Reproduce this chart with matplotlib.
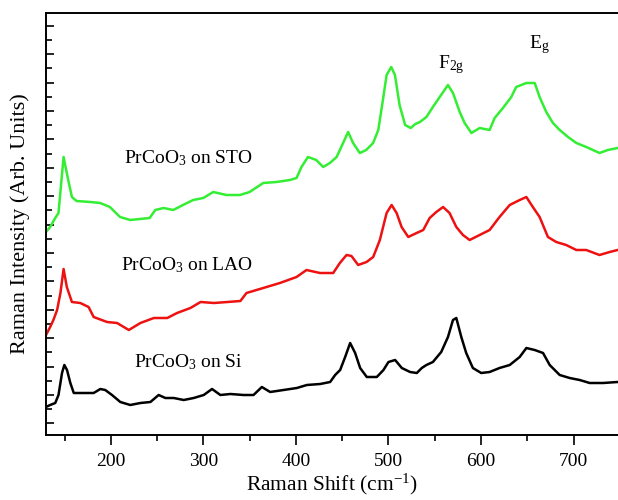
import matplotlib
matplotlib.use("Agg")
import matplotlib.pyplot as plt
from matplotlib.ticker import MultipleLocator, FixedLocator
import numpy as np

# Raman shift (cm^-1) and intensity (arb. units)
sto_x = [130, 134.5, 140, 143.5, 149, 154, 158, 163, 178, 188.5, 199, 210, 221, 231.6, 242, 248, 257,
         267.5, 278, 289, 300, 310.7, 325, 339.5, 350, 364.7, 379, 393.5, 400.7, 406, 413, 422, 429.5,
         436.7, 444, 451, 456.4, 461.8, 469, 476, 483.4, 489, 494, 498, 503, 507, 512, 518, 524, 529,
         534, 541, 548, 555.4, 564.3, 569.7, 577, 582.3, 589.6, 598.6, 609.3, 614.7, 623.7, 632.7, 638,
         649, 658, 663.3, 670.5, 677.7, 685, 694, 703, 713.7, 728, 737, 747.5]
sto_y = [203, 208, 217, 222, 278, 255, 238, 234, 233, 232, 228, 218, 215, 216, 217, 225, 227,
         225, 230, 235, 237, 243, 240, 240, 243, 252, 253, 255, 257, 268, 278, 275, 268,
         272, 278, 292, 303, 292, 282, 285, 292, 305, 335, 360, 368, 360, 330, 310, 307, 311,
         313, 318, 328, 338, 350, 342, 323, 312, 302, 307, 305, 317, 327, 338, 348,
         352, 352, 338, 323, 312, 305, 298, 292, 288, 282, 285, 287]

lao_x = [130, 134.5, 138, 142, 145.6, 149, 152.5, 158, 167, 176, 181.5, 196, 206.8, 219.5, 232, 246.5,
         261, 271.6, 286, 297, 311.5, 326, 340, 346.6, 364.7, 382.7, 400.7, 411.5, 426, 440.3, 447.5,
         454.7, 460, 467.3, 476.3, 483.5, 490.7, 498, 503.4, 508.8, 514.2, 521.4, 530.4, 537.6, 544.5,
         551.7, 559, 566, 573.3, 580.5, 587.7, 598.5, 609.3, 620, 631, 641.8, 649, 656, 663.3, 672.3,
         681.3, 692, 703, 713.7, 728, 739, 747.5]
lao_y = [100, 108, 115, 125, 142, 166, 148, 133, 132, 128, 118, 113, 112, 105, 112, 117,
         117, 122, 127, 133, 132, 133, 134, 142, 147, 152, 158, 165, 162, 162, 172,
         180, 179, 170, 173, 178, 195, 222, 230, 222, 208, 198, 202, 205, 217,
         223, 228, 222, 208, 200, 195, 200, 205, 218, 230, 235, 238, 228, 218, 198,
         193, 190, 185, 185, 180, 183, 185]

si_x = [130, 134.5, 140, 143.5, 147.3, 149.8, 152.7, 156.3, 160, 170.8, 181.5, 188.7, 194, 201.3, 210.3,
        221, 232, 242.8, 251.7, 259, 268, 278.8, 289.6, 300.4, 309.4, 318.4, 329.2, 343.4, 354.2, 363.2,
        372.2, 386.6, 401, 411.8, 426.2, 437, 442.4, 447.8, 453.2, 458.6, 464, 469.4, 476.6, 487.4,
        494.6, 500, 507.2, 514.4, 523.4, 530.6, 536, 541, 548, 557, 564.3, 569.7, 573.3, 578.7, 584,
        591.2, 600.2, 609.3, 620, 631, 641.8, 649, 658, 667, 674.2, 685, 695.8, 706.6, 717.4, 731.8,
        747.5]
si_y = [28, 30, 32, 40, 62, 70, 65, 52, 42, 42, 42, 46, 45, 40, 33,
        30, 32, 33, 40, 37, 37, 35, 37, 40, 46, 40, 41, 40, 40, 48,
        43, 45, 47, 50, 51, 53, 60, 65, 78, 92, 82, 67, 58, 58,
        65, 73, 75, 67, 63, 62, 67, 70, 73, 83, 98, 115, 117, 98, 82,
        67, 62, 63, 67, 70, 78, 87, 85, 82, 70, 60, 57, 55, 52, 52,
        53]

labels = ["PrCoO$_3$ on STO", "PrCoO$_3$ on LAO", "PrCoO$_3$ on Si"]
label_pos = [(214, 277), (211, 170), (225, 73)]
peak_labels = ["F$_{2g}$", "E$_g$"]
peak_pos = [(553, 370), (652, 390)]

plt.rcParams['font.family'] = ['Liberation Serif', 'DejaVu Serif']
plt.rcParams['mathtext.fontset'] = 'custom'
plt.rcParams['mathtext.rm'] = 'Liberation Serif'
plt.rcParams['mathtext.it'] = 'Liberation Serif'

fig = plt.figure(figsize=(6.18, 5.00), dpi=100)
ax = fig.add_axes([46/618, 65/500, 1 - 46/618, 422/500])

ax.plot(sto_x, sto_y, color="#33ee33", lw=1.8)
ax.plot(lao_x, lao_y, color="#ee1111", lw=1.8)
ax.plot(si_x, si_y, color="black", lw=1.8)

for t, (x, y) in zip(labels, label_pos):
    ax.text(x, y, t, fontsize=14, ha="left", va="center")
for t, (x, y) in zip(peak_labels, peak_pos):
    ax.text(x, y, t, fontsize=14, ha="left", va="center")

ax.set_xlim(130, 748)
ax.set_ylim(0, 422)
ax.xaxis.set_major_locator(MultipleLocator(100))
ax.xaxis.set_minor_locator(MultipleLocator(50))
ax.yaxis.set_major_locator(FixedLocator(np.arange(11.7, 422, 28.4)))
ax.yaxis.set_minor_locator(FixedLocator(np.arange(25.9, 422, 28.4)))
ax.tick_params(axis="x", which="major", direction="out", length=7, width=1.2, labelsize=14, pad=6)
ax.tick_params(axis="x", which="minor", direction="out", length=4, width=1.2)
ax.tick_params(axis="y", which="major", direction="in", length=6, width=1.2, labelleft=False)
ax.tick_params(axis="y", which="minor", direction="in", length=4, width=1.2)
ax.spines["right"].set_visible(False)
for s in ["left", "bottom", "top"]:
    ax.spines[s].set_linewidth(1.4)

ax.set_xlabel("Raman Shift (cm$^{-1}$)", fontsize=15.5, labelpad=1)
ax.set_ylabel("Raman Intensity (Arb. Units)", fontsize=16, labelpad=8)

fig.savefig("out.png", dpi=100)
